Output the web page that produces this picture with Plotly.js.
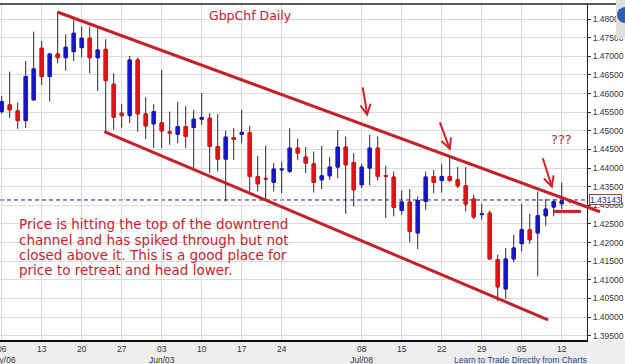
<!DOCTYPE html>
<html><head><meta charset="utf-8">
<script src="https://cdn.plot.ly/plotly-3.0.1.min.js"></script>
<style>html,body{margin:0;padding:0;background:#fff;overflow:hidden}#chart{width:625px;height:364px}</style>
</head><body><div id="chart"></div>
<script>
// ---- data: GBPCHF daily candles, one per trading day ----
const openP  = [1.45516,1.45695,1.45534,1.45274,1.45829,1.47215,1.46454,1.47062,1.46963,1.47124,
                1.47231,1.47483,1.46963,1.47188,1.4625,1.45473,1.45408,1.46901,1.45454,1.45186,
                1.45213,1.44972,1.4491,1.45114,1.45087,1.45312,1.45339,1.44578,1.4424,1.4482,
                1.44905,1.44953,1.43774,1.43725,1.43613,1.4395,1.43908,1.44535,1.44294,1.44114,
                1.43685,1.43792,1.44026,1.44562,1.44149,1.43551,1.43999,1.44535,1.438,1.43758,
                1.42862,1.43088,1.42257,1.43104,1.43774,1.43666,1.43774,1.43685,1.43524,1.43168,
                1.4275,1.42793,1.41541,1.40756,1.4156,1.4197,1.42345,1.42257,1.4272,1.42954,
                1.43042,1.4311];
const highP  = [1.45936,1.46588,1.45757,1.46874,1.4766,1.4741,1.4707,1.48188,1.4759,1.47973,
                1.47794,1.47794,1.47751,1.47456,1.46545,1.45722,1.47008,1.46963,1.45902,1.45714,
                1.46633,1.45516,1.45776,1.45668,1.45561,1.46009,1.45473,1.45446,1.44998,1.45071,
                1.45561,1.45132,1.44328,1.44604,1.44133,1.44176,1.45071,1.44784,1.44562,1.44444,
                1.44596,1.44294,1.45025,1.44846,1.44401,1.44114,1.44891,1.44846,1.4406,1.43908,
                1.43398,1.43436,1.43238,1.43908,1.43953,1.44114,1.44267,1.44026,1.44026,1.43283,
                1.43042,1.42862,1.41675,1.41855,1.42211,1.43042,1.42766,1.43372,1.43168,1.43168,
                1.43613,1.4316];
const lowP   = [1.45454,1.45339,1.45052,1.45071,1.4582,1.46231,1.45784,1.46813,1.46614,1.46874,
                1.46974,1.46545,1.4607,1.4498,1.45025,1.45087,1.45205,1.4498,1.44776,1.44535,
                1.44535,1.44623,1.44669,1.44535,1.43999,1.45159,1.43865,1.43908,1.43104,1.44221,
                1.44669,1.43372,1.43372,1.43149,1.43372,1.43329,1.43865,1.44221,1.43865,1.43345,
                1.43436,1.4368,1.43731,1.42766,1.4297,1.43463,1.4354,1.43666,1.42659,1.42702,
                1.42747,1.42005,1.41828,1.42881,1.43329,1.43345,1.4363,1.43463,1.42836,1.42632,
                1.42613,1.41541,1.40424,1.40488,1.41469,1.41764,1.4197,1.41094,1.42452,1.42702,
                1.429,1.4305];
const closeP = [1.45784,1.45561,1.45274,1.46454,1.4666,1.46454,1.47062,1.46963,1.47242,1.47617,
                1.47483,1.46963,1.47169,1.46346,1.45366,1.45408,1.46901,1.45454,1.45132,1.45516,
                1.44998,1.44937,1.45114,1.44846,1.45312,1.45355,1.44578,1.4424,1.4483,1.4477,
                1.44958,1.43774,1.43578,1.4371,1.43972,1.4397,1.44535,1.44401,1.44133,1.43613,
                1.43792,1.44026,1.44562,1.44087,1.43417,1.44026,1.44535,1.43774,1.4378,1.42943,
                1.43088,1.423,1.4313,1.43758,1.43613,1.43774,1.43666,1.43524,1.43034,1.42686,
                1.4277,1.4156,1.4081,1.4156,1.41855,1.42345,1.42077,1.4272,1.429,1.43104,
                1.4312,1.43143];

// x-axis ticks (trading-day index) and labels
const tickIdx  = [0,5,10,15,20,25,30,35,45,50,55,60,65,70];
const tickText = ['06<br>May/06','13','20','27','03<br>Jun/03','10','17','24','08<br>Jul/08','15','22','29','05','12'];
// y-axis ticks
const priceTicks = [1.395,1.40,1.405,1.41,1.415,1.42,1.425,1.43,1.435,1.44,1.445,1.45,1.455,1.46,1.465,1.47,1.475,1.48];
const priceTickText = priceTicks.map(v => v.toFixed(5));

// hand-drawn channel lines (trading-day index, price)
const upperIdx = [6.95, 74.79],  upperPx = [1.48188, 1.42828];
const lowerIdx = [12.83, 68.29], lowerPx = [1.4498, 1.39925];
const markIdx  = [69.04, 72.41], markPx  = [1.42836, 1.42836];
// hand-drawn arrows: tip and tail
const arrowTipIdx  = [45.72, 56.1, 68.85],  arrowTipPx  = [1.45374, 1.44462, 1.43444];
const arrowTailIdx = [45.1, 54.7, 67.58],   arrowTailPx = [1.46204, 1.45267, 1.44302];

const noteLines = ['Price is hitting the top of the downtrend',
                   'channel and has spiked through but not',
                   'closed above it. This is a good place for',
                   'price to retreat and head lower.'];

// ---- build ----
const xIdx = openP.map((_, i) => i);
const bodyHi = openP.map((o, i) => Math.max(o, closeP[i]));
const bodyLo = openP.map((o, i) => Math.min(o, closeP[i]));
const lastClose = closeP[closeP.length - 1];

const xRange = [-0.21, 73.16];
const yRange = [1.39385, 1.48403];
const W = 625, H = 364, M = {l:0, r:38, t:4, b:24};
const plotW = W - M.l - M.r, plotH = H - M.t - M.b;
const idxToPaper = v => (v - xRange[0]) / (xRange[1] - xRange[0]);
const pxToPaperX = px => (px - M.l) / plotW;
const pxToPaperY = py => (H - M.b - py) / plotH;

const RED = '#de1414', BLUE = '#1616c8', LINE = '#c4202a', TXT = '#c81e2c';

const wicks = {
  type: 'candlestick', x: xIdx, open: openP, high: highP, low: lowP, close: closeP,
  increasing: {line: {color: '#2a2a2a', width: 1}, fillcolor: 'rgba(0,0,0,0)'},
  decreasing: {line: {color: '#2a2a2a', width: 1}, fillcolor: 'rgba(0,0,0,0)'},
  whiskerwidth: 0, hoverinfo: 'skip', showlegend: false
};
const bodies = {
  type: 'candlestick', x: xIdx, open: openP, high: bodyHi, low: bodyLo, close: closeP,
  increasing: {line: {color: BLUE, width: 1}, fillcolor: BLUE},
  decreasing: {line: {color: RED, width: 1}, fillcolor: RED},
  whiskerwidth: 0, hoverinfo: 'skip', showlegend: false
};

const tickFont = {family: 'Liberation Sans, Arial, sans-serif', size: 8.5, color: '#333'};

const shapes = [
  // grey strip below axis
  {type:'rect', xref:'paper', yref:'paper', x0:-0.01, x1:1.08, y0:pxToPaperY(366), y1:pxToPaperY(340),
   fillcolor:'#eeeeee', line:{width:0}, layer:'below'},
  // white box behind the note
  {type:'rect', xref:'paper', yref:'paper', x0:pxToPaperX(8), x1:pxToPaperX(278), y0:pxToPaperY(285), y1:pxToPaperY(207),
   fillcolor:'#ffffff', line:{width:0}, layer:'between'},
  // last price dashed line
  {type:'line', xref:'paper', yref:'y', x0:0, x1:1, y0:lastClose, y1:lastClose,
   line:{color:'#1c1c78', width:1, dash:'4px,3px'}, layer:'between'},
  // channel lines
  {type:'line', xref:'paper', yref:'y', x0:idxToPaper(upperIdx[0]), x1:idxToPaper(upperIdx[1]), y0:upperPx[0], y1:upperPx[1],
   line:{color:LINE, width:3}, layer:'above'},
  {type:'line', xref:'paper', yref:'y', x0:idxToPaper(lowerIdx[0]), x1:idxToPaper(lowerIdx[1]), y0:lowerPx[0], y1:lowerPx[1],
   line:{color:LINE, width:3}, layer:'above'},
  {type:'line', xref:'paper', yref:'y', x0:idxToPaper(markIdx[0]), x1:idxToPaper(markIdx[1]), y0:markPx[0], y1:markPx[1],
   line:{color:LINE, width:3}, layer:'above'},
  // top frame line
  {type:'line', xref:'paper', yref:'paper', x0:0, x1:pxToPaperX(616), y0:1, y1:1,
   line:{color:'#222', width:1.5}, layer:'above'},
  // corner widget
  {type:'rect', xref:'paper', yref:'paper', x0:pxToPaperX(616), x1:pxToPaperX(630), y0:pxToPaperY(39), y1:pxToPaperY(-2),
   fillcolor:'#dedede', line:{width:0}, layer:'above'},
  {type:'circle', xref:'paper', yref:'paper', x0:pxToPaperX(617), x1:pxToPaperX(634), y0:pxToPaperY(23), y1:pxToPaperY(7),
   fillcolor:'#2f5fb4', line:{width:0}, layer:'above'}
];

const annotations = [];
noteLines.forEach((t, k) => annotations.push({
  xref:'paper', yref:'paper', x:pxToPaperX(16.5), y:pxToPaperY(224.3 + 15.3*k), xanchor:'left', yanchor:'middle',
  text:t, showarrow:false, font:{family:'DejaVu Sans, sans-serif', size:13.5, color:TXT}
}));
annotations.push({xref:'paper', yref:'paper', x:pxToPaperX(561), y:pxToPaperY(139.5), xanchor:'center', yanchor:'middle',
  text:'???', showarrow:false, font:{family:'DejaVu Sans, sans-serif', size:13, color:TXT}});
arrowTipIdx.forEach((v, k) => annotations.push({
  x:v, y:arrowTipPx[k], xref:'x', yref:'y', axref:'x', ayref:'y', ax:arrowTailIdx[k], ay:arrowTailPx[k],
  text:'', showarrow:true, arrowhead:5, arrowsize:1, arrowwidth:2, arrowcolor:'#d42028'
}));
annotations.push({xref:'paper', yref:'y', x:pxToPaperX(589), y:lastClose, xanchor:'left', yanchor:'middle',
  text:String(lastClose.toFixed(5)), showarrow:false, font:{family:'Liberation Sans, Arial, sans-serif', size:8.5, color:'#2222aa'},
  bgcolor:'#ffffff', bordercolor:'#a04848', borderwidth:1, borderpad:0, height:9});
annotations.push({xref:'paper', yref:'paper', x:pxToPaperX(520), y:pxToPaperY(360), xanchor:'center', yanchor:'middle',
  text:'Learn to Trade Directly from Charts', showarrow:false,
  font:{family:'Liberation Sans, Arial, sans-serif', size:8.5, color:'#1f3c8c'}});

const layout = {
  width: W, height: H, margin: M,
  paper_bgcolor: '#ffffff', plot_bgcolor: '#ffffff',
  showlegend: false, hovermode: false,
  boxgap: 0.5, boxgroupgap: 0.2,
  title: {text:'GbpChf Daily', xref:'container', yref:'container', x:209/W, xanchor:'left', y:1-16/H, yanchor:'middle',
          font:{family:'DejaVu Sans, sans-serif', size:12.5, color:'#c8202c'}},
  xaxis: {type:'linear', range:xRange, tickvals:tickIdx, ticktext:tickText, ticks:'', showgrid:true, gridcolor:'#dadada',
          gridwidth:1, zeroline:false, showline:true, linecolor:'#111', linewidth:1.5, tickfont:tickFont,
          ticklabeloverflow:'allow', rangeslider:{visible:false}, fixedrange:true},
  yaxis: {side:'right', range:yRange, tickvals:priceTicks, ticktext:priceTickText, ticks:'outside', ticklen:3,
          tickcolor:'#333', showline:true, linecolor:'#222', linewidth:1, showgrid:true, gridcolor:'#dadada',
          zeroline:false, tickfont:tickFont, ticklabeloverflow:'allow', fixedrange:true},
  shapes: shapes, annotations: annotations
};

Plotly.newPlot('chart', [wicks, bodies], layout, {staticPlot:true, displayModeBar:false});
</script></body></html>
